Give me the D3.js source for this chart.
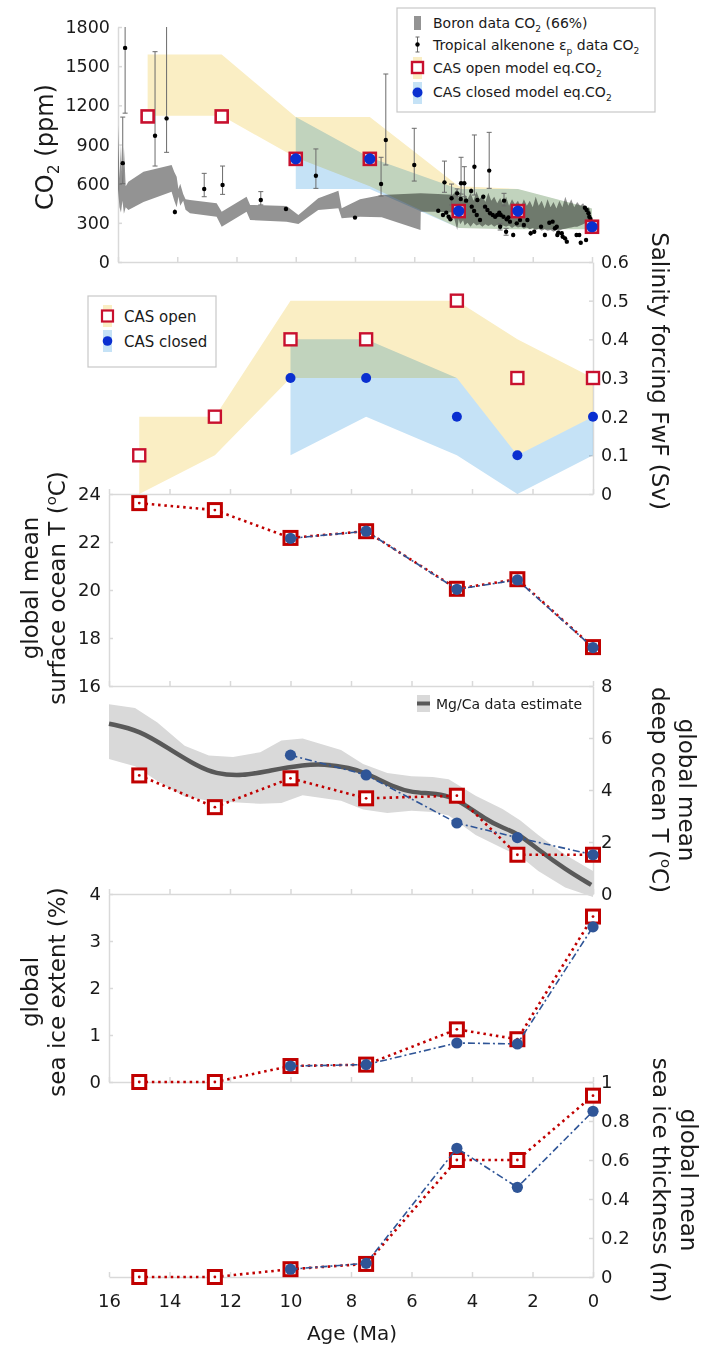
<!DOCTYPE html>
<html>
<head>
<meta charset="utf-8">
<script src="https://cdn.jsdelivr.net/npm/d3@7/dist/d3.min.js"></script>
<style>
  body { margin: 0; background: #fff; }
  svg text { font-family: "DejaVu Sans", sans-serif; fill: #1a1a1a; }
  .blend { mix-blend-mode: multiply; }
</style>
</head>
<body>
<svg id="chart" width="703" height="1346"></svg>
<script>
// ---- data ----
const ages = [15, 12.5, 10, 7.5, 4.5, 2.5, 0];
const closedAges = [10, 7.5, 4.5, 2.5, 0];
const ageTicks = [16, 14, 12, 10, 8, 6, 4, 2, 0];

// CO2 panel
const co2Open = [1115, 1115, 790, 790, 390, 390, 270];
const co2Closed = [790, 790, 390, 390, 270];
const co2OpenHi = [1590, 1590, 1110, 1110, 580, 560, 410];
const co2OpenLo = [1120, 1120, 800, 580, 260, 250, 250];
const co2ClosedHi = [1110, 800, 560, 560, 410];
const co2ClosedLo = [560, 560, 260, 250, 250];

const boronAge = [16.0, 15.95, 15.9, 15.85, 15.8, 15.74, 15.65, 15.14, 14.19, 14.1, 14.02, 13.96, 13.9, 13.8,
  13.72, 13.57, 12.67, 12.5, 11.66, 11.54, 10.31, 9.91, 9.24, 8.56, 8.45, 7.83, 7.1, 5.79, 5.78, 5.2, 4.7,
  4.55, 4.5, 4.45, 4.35, 4.3, 4.2, 4.1, 4.0, 3.9, 3.8, 3.7, 3.6, 3.5, 3.4, 3.3, 3.2, 3.1, 3.0, 2.9, 2.8,
  2.7, 2.6, 2.5, 2.4, 2.3, 2.2, 2.1, 2.0, 1.9, 1.8, 1.7, 1.6, 1.5, 1.4, 1.3, 1.2, 1.1, 1.0, 0.9, 0.8,
  0.7, 0.6, 0.5, 0.4, 0.3, 0.2, 0.1, 0.05];
const boronLo = [560, 420, 380, 470, 370, 420, 398, 460, 538, 470, 420, 500, 430, 470,
  400, 373, 347, 270, 385, 322, 309, 291, 398, 411, 335, 347, 342, 245, 385, 385, 380,
  245, 330, 290, 320, 280, 300, 270, 300, 280, 290, 270, 290, 275, 290, 270, 285, 265, 280, 270, 280,
  260, 275, 265, 270, 255, 265, 250, 260, 245, 255, 240, 250, 240, 245, 232, 245, 240, 250, 255, 260,
  265, 270, 270, 280, 290, 300, 315, 322];
const boronHi = [1050, 640, 900, 600, 880, 580, 615, 692, 743, 690, 653, 560, 600, 520,
  480, 475, 450, 385, 500, 437, 429, 360, 488, 546, 411, 480, 513, 526, 526, 520, 515,
  560, 480, 540, 470, 520, 480, 530, 470, 540, 480, 510, 460, 530, 470, 500, 450, 490, 440, 500, 430,
  480, 440, 470, 420, 480, 430, 470, 420, 500, 430, 470, 410, 480, 420, 460, 410, 470, 420, 500, 430,
  480, 420, 460, 430, 450, 410, 420, 385];

// alkenone points: [age, co2, low, high]
const alkenone = [
  [15.84, 757, 600, 1110], [15.76, 1640, 1140, 1800], [14.75, 967, 735, 1611], [14.36, 1100, 840, 1800],
  [14.08, 383, 365, 405], [13.09, 559, 500, 679], [12.47, 590, 518, 735], [11.18, 475, 437, 539],
  [10.33, 406, 395, 418], [9.32, 661, 564, 866], [8.0, 340, 332, 348], [7.12, 597, 505, 802],
  [6.96, 934, 743, 1440], [6.0, 743, 620, 1024], [5.19, 393, 380, 405], [5.03, 360, 350, 370],
  [4.98, 610, 534, 773], [4.92, 378, 368, 388], [4.84, 347, 337, 357], [4.78, 327, 317, 337],
  [4.74, 488, 437, 597], [4.55, 526, 500, 560], [4.43, 483, 470, 500], [4.42, 603, 520, 802],
  [4.31, 603, 500, 730], [4.25, 470, 455, 485], [4.08, 544, 525, 565], [4.06, 424, 410, 440],
  [3.98, 391, 380, 402], [3.97, 730, 513, 973], [3.89, 360, 350, 372], [3.87, 475, 462, 490],
  [3.78, 322, 310, 335], [3.67, 500, 485, 515], [3.61, 424, 412, 436], [3.53, 398, 386, 410],
  [3.47, 700, 564, 993], [3.44, 373, 360, 386], [3.35, 360, 348, 372], [3.27, 347, 335, 360],
  [3.2, 360, 348, 372], [3.13, 378, 365, 390], [3.1, 270, 245, 295], [3.08, 360, 348, 372],
  [2.99, 347, 335, 360], [2.97, 470, 430, 526], [2.9, 232, 205, 258], [2.88, 327, 315, 340],
  [2.82, 342, 330, 355], [2.77, 309, 297, 322], [2.66, 207, 190, 225], [2.54, 296, 282, 310],
  [2.43, 322, 310, 335], [2.3, 283, 270, 296], [2.18, 322, 310, 335], [2.07, 220, 200, 240],
  [1.95, 232, 215, 250], [1.72, 270, 255, 285], [1.59, 207, 190, 225], [1.44, 301, 288, 315],
  [1.33, 309, 296, 322], [1.25, 258, 245, 272], [1.19, 270, 257, 283], [1.17, 207, 192, 222],
  [1.14, 224, 210, 238], [1.02, 220, 205, 235], [0.99, 194, 178, 210], [0.91, 181, 165, 197],
  [0.85, 156, 140, 172], [0.52, 207, 192, 222], [0.43, 207, 192, 222], [0.38, 148, 135, 162],
  [0.24, 416, 400, 430], [0.2, 168, 155, 182], [0.18, 398, 385, 410], [0.12, 373, 360, 386],
  [0.09, 347, 335, 360], [0.05, 330, 318, 342],
];

// salinity forcing
const salOpen = [0.1, 0.2, 0.4, 0.4, 0.5, 0.3, 0.3];
const salClosed = [0.3, 0.3, 0.2, 0.1, 0.2];
const salOpenHi = [0.2, 0.2, 0.5, 0.5, 0.5, 0.4, 0.3];
const salOpenLo = [0, 0.1, 0.3, 0.3, 0.3, 0.1, 0.2];
const salClosedHi = [0.4, 0.4, 0.3, 0.1, 0.2];
const salClosedLo = [0.1, 0.2, 0.1, 0, 0.1];

// model outputs
const sstOpen = [23.62, 23.33, 22.17, 22.45, 20.05, 20.45, 17.62];
const sstClosed = [22.15, 22.45, 20.03, 20.42, 17.6];
const deepOpen = [4.56, 3.34, 4.45, 3.68, 3.78, 1.51, 1.51];
const deepClosed = [5.34, 4.58, 2.73, 2.17, 1.51];
const iceOpen = [0, 0, 0.34, 0.37, 1.12, 0.91, 3.52];
const iceClosed = [0.34, 0.37, 0.83, 0.81, 3.3];
const thickOpen = [0, 0, 0.04, 0.067, 0.6, 0.6, 0.93];
const thickClosed = [0.04, 0.07, 0.66, 0.46, 0.85];

// Mg/Ca deep temperature estimate
const mgcaAge = [16, 14.99, 13.96, 13.07, 12.5, 11.59, 10.7, 9.51, 8.92, 8.03, 7.51, 6.55, 5.96, 5.36,
  4.77, 4.18, 3.59, 2.99, 2.47, 1.81, 0.92, 0.06];
const mgcaT = [6.55, 6.3, 5.54, 4.91, 4.63, 4.53, 4.75, 4.97, 5.0, 4.85, 4.66, 4.09, 3.9, 3.88,
  3.78, 3.4, 2.9, 2.54, 2.33, 1.7, 0.95, 0.35];
const mgcaBandAge = [16, 15.14, 14.4, 13.5, 12.7, 11.9, 11.0, 10.3, 9.6, 8.33, 7.6, 6.8, 6.0, 5.3, 4.77,
  3.88, 2.99, 2.4, 1.81, 0.92, 0.0];
const mgcaHi = [7.3, 7.15, 6.6, 5.7, 5.33, 5.27, 5.45, 5.9, 5.98, 5.54, 5.0, 4.65, 4.53, 4.5, 4.41,
  3.78, 3.27, 2.83, 2.27, 1.51, 0.88];
const mgcaLo = [5.19, 4.91, 4.35, 3.75, 3.59, 3.53, 3.47, 3.5, 3.8, 3.59, 3.25, 3.12, 3.2, 3.15, 3.02,
  2.27, 1.76, 1.44, 0.88, 0.25, -0.12];

// ---- setup ----
const svg = d3.select('#chart');
const red = '#c00000';
const blue = '#2f5597';
const crimson = '#c8102e';
const brightBlue = '#0a2fd0';
const axisGray = '#d9d9d9';
const djv = '"DejaVu Sans", sans-serif';
const ops = '"Open Sans", sans-serif';

const xTop = d3.scaleLinear().domain([16, 0]).range([118, 592]);
const xLow = d3.scaleLinear().domain([16, 0]).range([109, 593]);

const yCo2 = d3.scaleLinear().domain([0, 1800]).range([262, 27]);
const ySal = d3.scaleLinear().domain([0, 0.6]).range([494, 262]);
const ySst = d3.scaleLinear().domain([16, 24]).range([686, 494]);
const yDeep = d3.scaleLinear().domain([0, 8]).range([894, 686]);
const yIce = d3.scaleLinear().domain([0, 4]).range([1082, 894]);
const yThk = d3.scaleLinear().domain([0, 1]).range([1277, 1082]);

function styleAxis(g, size, family) {
  g.attr('font-family', null).attr('font-size', null);
  g.select('.domain').attr('stroke', axisGray).attr('stroke-width', 1.5);
  g.selectAll('.tick line').attr('stroke', axisGray).attr('stroke-width', 1.5);
  g.selectAll('.tick text')
    .attr('font-size', size)
    .attr('font-family', family)
    .attr('fill', '#1a1a1a');
}

function xAxis(x, yPos, labels) {
  const axis = d3.axisBottom(x).tickValues(ageTicks).tickSize(-5).tickSizeOuter(0)
    .tickPadding(17).tickFormat(labels ? d3.format('d') : '');
  const g = svg.append('g').attr('transform', `translate(0,${yPos})`).call(axis);
  styleAxis(g, 18, ops);
}

function yAxis(y, side, xPos, values, fmt, size, family) {
  const axis = (side === 'left' ? d3.axisLeft(y) : d3.axisRight(y))
    .tickValues(values).tickSize(-4).tickSizeOuter(0).tickPadding(8).tickFormat(fmt);
  const g = svg.append('g').attr('transform', `translate(${xPos},0)`).call(axis);
  styleAxis(g, size, family);
}

function band(x, y, xs, lo, hi, fill, cls) {
  const rows = xs.map((a, i) => ({ a, lo: lo[i], hi: hi[i] }));
  svg.append('path')
    .datum(rows)
    .attr('class', cls || null)
    .attr('fill', fill)
    .attr('d', d3.area().x((d) => x(d.a)).y0((d) => y(d.lo)).y1((d) => y(d.hi)));
}

function squares(x, y, xs, vals, opts) {
  const s = opts.size;
  const pts = xs.map((a, i) => [a, vals[i]]);
  svg.append('g').selectAll('rect')
    .data(pts)
    .join('rect')
    .attr('x', (d) => x(d[0]) - s / 2)
    .attr('y', (d) => y(d[1]) - s / 2)
    .attr('width', s)
    .attr('height', s)
    .attr('fill', '#fff')
    .attr('stroke', opts.color)
    .attr('stroke-width', opts.width);
  if (opts.dot) {
    svg.append('g').selectAll('circle')
      .data(pts)
      .join('circle')
      .attr('cx', (d) => x(d[0]))
      .attr('cy', (d) => y(d[1]))
      .attr('r', 1.4)
      .attr('fill', opts.color);
  }
}

function dots(x, y, xs, vals, r, color) {
  svg.append('g').selectAll('circle')
    .data(xs.map((a, i) => [a, vals[i]]))
    .join('circle')
    .attr('cx', (d) => x(d[0]))
    .attr('cy', (d) => y(d[1]))
    .attr('r', r)
    .attr('fill', color);
}

function seriesLine(x, y, xs, vals, color, width, dash) {
  svg.append('path')
    .datum(xs.map((a, i) => [a, vals[i]]))
    .attr('fill', 'none')
    .attr('stroke', color)
    .attr('stroke-width', width)
    .attr('stroke-dasharray', dash)
    .attr('d', d3.line().x((d) => x(d[0])).y((d) => y(d[1])));
}

// write parts [[text, 'sub'|'sup'|undefined], ...] into a text node
function richText(t, parts, size) {
  let shift = 0;
  parts.forEach(([txt, kind]) => {
    const sp = t.append('tspan').text(txt);
    let target = 0;
    if (kind === 'sub') target = size * 0.25;
    if (kind === 'sup') target = -size * 0.4;
    if (target !== shift) sp.attr('dy', target - shift);
    if (kind) sp.attr('font-size', size * 0.65);
    shift = target;
  });
}

// rotated title centred on (cx, cy)
function title(cx, cy, angle, parts, size) {
  const t = svg.append('text')
    .attr('transform', `translate(${cx},${cy}) rotate(${angle})`)
    .attr('text-anchor', 'middle')
    .attr('dy', '0.35em')
    .attr('font-size', size);
  richText(t, parts, size);
}

// ---- axes ----
xAxis(xTop, 262, false);
yAxis(yCo2, 'left', 118, d3.range(0, 1801, 300), d3.format('d'), 17.5, djv);
xAxis(xLow, 494, false);
yAxis(ySal, 'right', 593, [0, 0.1, 0.2, 0.3, 0.4, 0.5, 0.6], (d) => (d === 0 ? '0' : d3.format('.1f')(d)), 17.5, djv);
xAxis(xLow, 686, false);
yAxis(ySst, 'left', 109, [16, 18, 20, 22, 24], d3.format('d'), 18, ops);
xAxis(xLow, 894, false);
yAxis(yDeep, 'right', 593, [0, 2, 4, 6, 8], d3.format('d'), 18, ops);
xAxis(xLow, 1082, false);
yAxis(yIce, 'left', 109, [0, 1, 2, 3, 4], d3.format('d'), 18, ops);
xAxis(xLow, 1277, true);
yAxis(yThk, 'right', 593, [0, 0.2, 0.4, 0.6, 0.8, 1], (d) => (d === 0 || d === 1 ? d3.format('d')(d) : d3.format('.1f')(d)), 18, ops);

// ---- CO2 panel ----
band(xTop, yCo2, ages, co2OpenLo, co2OpenHi, '#faeec4', 'blend');
band(xTop, yCo2, closedAges, co2ClosedLo, co2ClosedHi, '#c5e2f6', 'blend');
band(xTop, yCo2, boronAge, boronLo, boronHi, '#939393', 'blend');

const alk = svg.append('g');
alk.selectAll('line.err')
  .data(alkenone)
  .join('line')
  .attr('x1', (d) => xTop(d[0]))
  .attr('x2', (d) => xTop(d[0]))
  .attr('y1', (d) => yCo2(d[2]))
  .attr('y2', (d) => yCo2(d[3]))
  .attr('stroke', '#6b6b6b')
  .attr('stroke-width', 1);
[2, 3].forEach((k) => {
  alk.append('g').selectAll('line')
    .data(alkenone.filter((d) => d[3] - d[2] > 40 && d[k] < 1800))
    .join('line')
    .attr('x1', (d) => xTop(d[0]) - 2.5)
    .attr('x2', (d) => xTop(d[0]) + 2.5)
    .attr('y1', (d) => yCo2(d[k]))
    .attr('y2', (d) => yCo2(d[k]))
    .attr('stroke', '#6b6b6b')
    .attr('stroke-width', 1);
});
alk.append('g').selectAll('circle')
  .data(alkenone)
  .join('circle')
  .attr('cx', (d) => xTop(d[0]))
  .attr('cy', (d) => yCo2(d[1]))
  .attr('r', 2.2)
  .attr('fill', '#000');

squares(xTop, yCo2, ages, co2Open, { size: 12, color: crimson, width: 2.6 });
dots(xTop, yCo2, closedAges, co2Closed, 5.6, brightBlue);

title(45, 147, -90, [['CO'], ['2', 'sub'], [' (ppm)']], 24);

// legend CO2
const lg = svg.append('g');
lg.append('rect').attr('x', 397).attr('y', 8).attr('width', 258).attr('height', 104)
  .attr('fill', '#fff').attr('stroke', '#c8c8c8').attr('stroke-width', 1.2);
lg.append('rect').attr('x', 414).attr('y', 16).attr('width', 7).attr('height', 14).attr('fill', '#939393');
lg.append('line').attr('x1', 417.5).attr('x2', 417.5).attr('y1', 37).attr('y2', 52).attr('stroke', '#6b6b6b');
lg.append('line').attr('x1', 415.5).attr('x2', 419.5).attr('y1', 37).attr('y2', 37).attr('stroke', '#6b6b6b');
lg.append('line').attr('x1', 415.5).attr('x2', 419.5).attr('y1', 52).attr('y2', 52).attr('stroke', '#6b6b6b');
lg.append('circle').attr('cx', 417.5).attr('cy', 44.5).attr('r', 2.2).attr('fill', '#000');
lg.append('rect').attr('x', 413).attr('y', 57).attr('width', 9).attr('height', 22).attr('fill', '#faeec4');
lg.append('rect').attr('x', 412).attr('y', 62).attr('width', 11).attr('height', 11)
  .attr('fill', '#fff').attr('stroke', crimson).attr('stroke-width', 2.4);
lg.append('rect').attr('x', 413).attr('y', 82).attr('width', 9).attr('height', 22).attr('fill', '#c5e2f6');
lg.append('circle').attr('cx', 417.5).attr('cy', 92.5).attr('r', 5).attr('fill', brightBlue);
const legendRows = [
  [['Boron data CO'], ['2', 'sub'], [' (66%)']],
  [['Tropical alkenone \u03b5'], ['p', 'sub'], [' data CO'], ['2', 'sub']],
  [['CAS open model eq.CO'], ['2', 'sub']],
  [['CAS closed model eq.CO'], ['2', 'sub']],
];
[28, 50, 73, 97].forEach((yy, i) => {
  const t = lg.append('text').attr('x', 433).attr('y', yy).attr('font-size', 14);
  richText(t, legendRows[i], 14);
});

// ---- salinity panel ----
band(xLow, ySal, ages, salOpenLo, salOpenHi, '#faeec4', 'blend');
band(xLow, ySal, closedAges, salClosedLo, salClosedHi, '#c5e2f6', 'blend');
squares(xLow, ySal, ages, salOpen, { size: 12, color: crimson, width: 2.4 });
dots(xLow, ySal, closedAges, salClosed, 5, brightBlue);
title(660, 371, 90, [['Salinity forcing FwF (Sv)']], 23);

const sl = svg.append('g');
sl.append('rect').attr('x', 88).attr('y', 296).attr('width', 128).attr('height', 71)
  .attr('fill', '#fff').attr('stroke', '#c8c8c8').attr('stroke-width', 1.2);
sl.append('rect').attr('x', 103).attr('y', 305).attr('width', 9).attr('height', 22).attr('fill', '#faeec4');
sl.append('rect').attr('x', 102).attr('y', 310.5).attr('width', 11).attr('height', 11)
  .attr('fill', '#fff').attr('stroke', crimson).attr('stroke-width', 2.2);
sl.append('rect').attr('x', 103).attr('y', 330).attr('width', 9).attr('height', 22).attr('fill', '#c5e2f6');
sl.append('circle').attr('cx', 107.5).attr('cy', 341).attr('r', 4.8).attr('fill', brightBlue);
sl.append('text').attr('x', 124).attr('y', 321.5).attr('font-size', 15).attr('font-family', ops).text('CAS open');
sl.append('text').attr('x', 124).attr('y', 346.5).attr('font-size', 15).attr('font-family', ops).text('CAS closed');

// ---- model panels ----
const dotted = '2.5,3.8';
const dashDot = '7,3,2,3';
function modelPanel(y, open, closed) {
  seriesLine(xLow, y, ages, open, red, 2.6, dotted);
  squares(xLow, y, ages, open, { size: 13, color: red, width: 3, dot: true });
  seriesLine(xLow, y, closedAges, closed, blue, 1.6, dashDot);
  dots(xLow, y, closedAges, closed, 5.6, blue);
}

// surface ocean
modelPanel(ySst, sstOpen, sstClosed);
title(30, 588, -90, [['global mean']], 23);
title(57, 588, -90, [['surface ocean T ('], ['o', 'sup'], ['C)']], 23);

// deep ocean with Mg/Ca
band(xLow, yDeep, mgcaBandAge, mgcaLo, mgcaHi, '#d9d9d9');
svg.append('path')
  .datum(mgcaAge.map((a, i) => [a, mgcaT[i]]))
  .attr('fill', 'none')
  .attr('stroke', '#595959')
  .attr('stroke-width', 4.5)
  .attr('d', d3.line().curve(d3.curveBasis).x((d) => xLow(d[0])).y((d) => yDeep(d[1])));
modelPanel(yDeep, deepOpen, deepClosed);
svg.append('rect').attr('x', 417).attr('y', 695).attr('width', 13).attr('height', 17).attr('fill', '#d9d9d9');
svg.append('line').attr('x1', 417).attr('x2', 430).attr('y1', 703.5).attr('y2', 703.5)
  .attr('stroke', '#595959').attr('stroke-width', 4);
svg.append('text').attr('x', 436).attr('y', 708.5).attr('font-size', 14).attr('font-family', ops)
  .text('Mg/Ca data estimate');
title(687, 790, 90, [['global mean']], 23);
title(660, 790, 90, [['deep ocean T ('], ['o', 'sup'], ['C)']], 23);

// sea ice extent
modelPanel(yIce, iceOpen, iceClosed);
title(30, 992, -90, [['global']], 23);
title(57, 992, -90, [['sea ice extent (%)']], 23);

// sea ice thickness
modelPanel(yThk, thickOpen, thickClosed);
title(689, 1180, 90, [['global mean']], 23);
title(661, 1180, 90, [['sea ice thickness (m)']], 23);

svg.append('text').attr('x', 352).attr('y', 1340).attr('text-anchor', 'middle')
  .attr('font-size', 20).attr('font-family', ops).text('Age (Ma)');
</script>
</body>
</html>
